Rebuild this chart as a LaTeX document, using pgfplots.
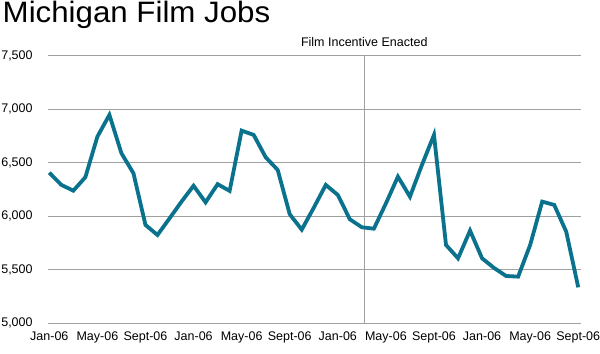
\documentclass[border=0pt]{standalone}
\usepackage{fontspec}
\setmainfont{Liberation Sans}
\usepackage{pgfplots}
\pgfplotsset{compat=1.18}
\definecolor{teal1}{RGB}{10,114,140}
\definecolor{gridgray}{RGB}{160,160,160}
\begin{document}
\begin{tikzpicture}[x=1bp,y=1bp]
\path[use as bounding box] (0,0) rectangle (600,353);
\node[anchor=base west, inner sep=0pt, xscale=1.06] at (2.5,330.3) {\fontsize{29.5bp}{32bp}\selectfont Michigan Film Jobs};
\begin{axis}[
  at={(48.3bp,29.7bp)}, anchor=south west,
  scale only axis, width=532.7bp, height=267.6bp,
  xmin=-0.083, xmax=44.23, ymin=5000, ymax=7500,
  axis line style={draw=none},
  major tick length=0pt,
  ytick={5000,5500,...,7500},
  xtick={0,4,...,44},
  xticklabels={Jan-06,May-06,Sept-06,Jan-06,May-06,Sept-06,Jan-06,May-06,Sept-06,Jan-06,May-06,Sept-06},
  ymajorgrids,
  grid style={gridgray, line width=1.3bp},
  /pgf/number format/assume math mode=true,
  /pgf/number format/.cd, fixed, 1000 sep={,},
  /pgfplots/.cd,
  yticklabel style={font=\fontsize{12.5bp}{14bp}\selectfont, inner sep=0pt, xshift=-15.5bp},
  xticklabel style={font=\fontsize{12.5bp}{14bp}\selectfont, inner sep=0pt, yshift=-8.5bp},
  clip=false,
]
\addplot[gridgray, line width=1.3bp] coordinates {(26.2,5000) (26.2,7500)};
\node[anchor=base, inner sep=0pt, font=\fontsize{12.5bp}{14bp}\selectfont] at (axis cs:26.2,7500) [yshift=9bp] {Film Incentive Enacted};
\addplot[teal1, line width=3.8bp, line join=miter, mark=none] coordinates {
(0,6407) (1,6293) (2,6239) (3,6365) (4,6744) (5,6947) (6,6589) (7,6402)
(8,5919) (9,5825) (10,5980) (11,6137) (12,6285) (13,6130) (14,6300) (15,6237)
(16,6800) (17,6760) (18,6551) (19,6433) (20,6019) (21,5875) (22,6080) (23,6293)
(24,6199) (25,5972) (26,5897) (27,5884) (28,6120) (29,6370) (30,6183) (31,6480)
(32,6760) (33,5732) (34,5607) (35,5866) (36,5607) (37,5517) (38,5442) (39,5436)
(40,5732) (41,6137) (42,6106) (43,5856) (44,5336)
};
\end{axis}
\end{tikzpicture}
\end{document}
